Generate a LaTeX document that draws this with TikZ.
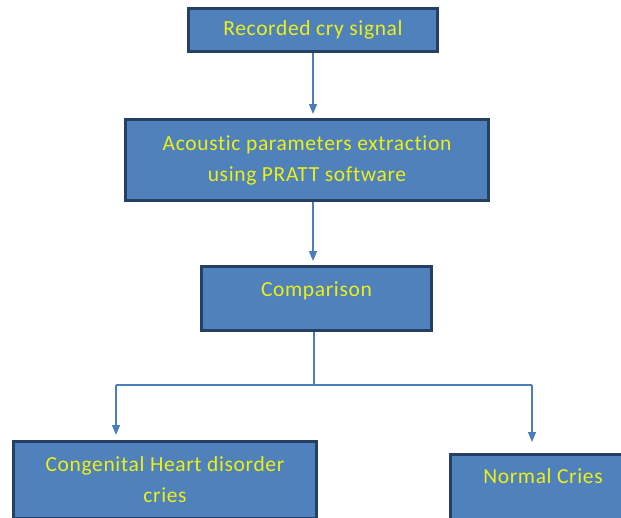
\documentclass[tikz,border=0pt]{standalone}
\usepackage{fontspec}
\setmainfont{Carlito}[Ligatures=CommonOff,LetterSpace=3]
\usetikzlibrary{arrows.meta}
\definecolor{boxfill}{RGB}{79,129,189}
\definecolor{boxline}{RGB}{38,64,100}
\definecolor{linkblue}{RGB}{74,126,187}
\definecolor{boxtext}{RGB}{238,240,20}
\begin{document}
\begin{tikzpicture}[x=1pt,y=-1pt,>={Triangle[width=8pt,length=10pt]},
	box/.style={draw=boxline,line width=3pt,fill=boxfill,text=boxtext,align=center,inner sep=0pt,
		font=\fontsize{21.5}{31}\selectfont},
	link/.style={draw=linkblue,line width=1.3pt}]
	\useasboundingbox (0,0) rectangle (621,517);
	\clip (0,0) rectangle (621,517);
	\node[box,minimum width=249pt,minimum height=43pt] (rec) at (313,30) {Recorded cry signal};
	\node[box,minimum width=363pt,minimum height=81pt] (acou) at (307,160) {Acoustic parameters extraction\\using PRATT software};
	\node[box,minimum width=230pt,minimum height=64pt,text height=14pt,text depth=19pt] (comp) at (316.5,298.5) {Comparison};
	\node[box,minimum width=303pt,minimum height=77pt] (chd) at (165,480) {Congenital Heart disorder\\cries};
	\node[box,minimum width=185pt,minimum height=73pt,text height=15pt,text depth=31pt] (norm) at (543,491) {Normal Cries};
	% connectors
	\coordinate (split) at (314,385);
	\coordinate (lft) at (116,385);
	\coordinate (rgt) at (532,385);
	\draw[link,->,shorten >=4pt] (rec.south) -- (rec.south |- acou.north);
	\draw[link,->,shorten >=4pt] (rec.south |- acou.south) -- (rec.south |- comp.north);
	\draw[link] (comp.south -| split) -- (split);
	\draw[link] (lft) -- (rgt);
	\draw[link,->,shorten >=5pt] (lft) -- (lft |- chd.north);
	\draw[link,->,shorten >=11pt] (rgt) -- (rgt |- norm.north);
\end{tikzpicture}
\end{document}
